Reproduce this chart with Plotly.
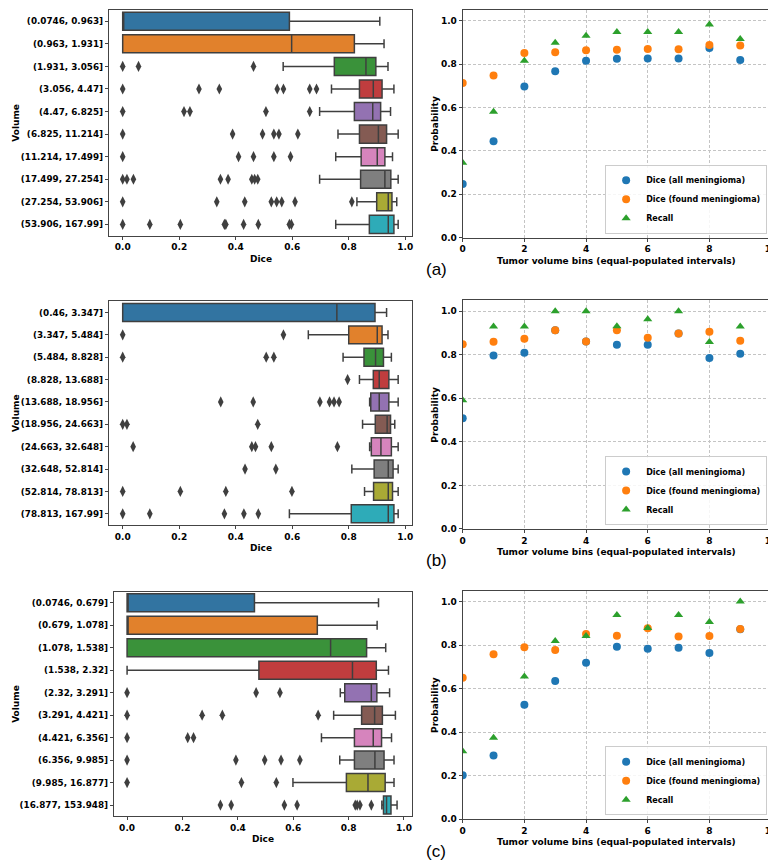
import plotly.graph_objects as go

W, H = 776, 860

# ---------------- data ----------------
cats_a = ["(0.0746, 0.963]", "(0.963, 1.931]", "(1.931, 3.056]", "(3.056, 4.47]", "(4.47, 6.825]",
          "(6.825, 11.214]", "(11.214, 17.499]", "(17.499, 27.254]", "(27.254, 53.906]", "(53.906, 167.99]"]
q1_a = [0, 0, 0.749, 0.838, 0.82, 0.838, 0.844, 0.842, 0.899, 0.873]
med_a = [0, 0.598, 0.861, 0.887, 0.885, 0.905, 0.901, 0.928, 0.94, 0.94]
q3_a = [0.59, 0.82, 0.896, 0.918, 0.913, 0.934, 0.928, 0.949, 0.953, 0.96]
lo_a = [0, 0, 0.568, 0.739, 0.697, 0.762, 0.754, 0.697, 0.829, 0.754]
hi_a = [0.91, 0.925, 0.939, 0.96, 0.948, 0.975, 0.955, 0.975, 0.97, 0.975]
out_a = [[], [], [0, 0.056, 0.463], [0, 0.27, 0.342, 0.547, 0.569, 0.662, 0.686],
         [0, 0.217, 0.238, 0.507, 0.662], [0, 0.389, 0.495, 0.535, 0.553, 0.62],
         [0, 0.41, 0.463, 0.535, 0.594], [0, 0.015, 0.038, 0.346, 0.373, 0.457, 0.467, 0.478],
         [0, 0.333, 0.432, 0.526, 0.545, 0.563, 0.61, 0.811],
         [0, 0.096, 0.204, 0.36, 0.365, 0.428, 0.48, 0.59, 0.597]]

cats_b = ["(0.46, 3.347]", "(3.347, 5.484]", "(5.484, 8.828]", "(8.828, 13.688]", "(13.688, 18.956]",
          "(18.956, 24.663]", "(24.663, 32.648]", "(32.648, 52.814]", "(52.814, 78.813]", "(78.813, 167.99]"]
q1_b = [0, 0.80, 0.854, 0.887, 0.878, 0.894, 0.88, 0.89, 0.888, 0.809]
med_b = [0.758, 0.901, 0.895, 0.908, 0.908, 0.936, 0.914, 0.94, 0.94, 0.94]
q3_b = [0.893, 0.918, 0.923, 0.942, 0.942, 0.948, 0.951, 0.957, 0.955, 0.96]
lo_b = [0, 0.657, 0.78, 0.838, 0.874, 0.849, 0.874, 0.811, 0.856, 0.59]
hi_b = [0.934, 0.939, 0.951, 0.975, 0.975, 0.963, 0.975, 0.975, 0.975, 0.975]
out_b = [[], [0, 0.569], [0, 0.508, 0.535], [0.796], [0.347, 0.462, 0.698, 0.732, 0.748, 0.766],
         [0, 0.015, 0.478], [0.037, 0.457, 0.47, 0.526, 0.76], [0.433, 0.542],
         [0, 0.204, 0.365, 0.599], [0, 0.096, 0.36, 0.429, 0.48]]

cats_c = ["(0.0746, 0.679]", "(0.679, 1.078]", "(1.078, 1.538]", "(1.538, 2.32]", "(2.32, 3.291]",
          "(3.291, 4.421]", "(4.421, 6.356]", "(6.356, 9.985]", "(9.985, 16.877]", "(16.877, 153.948]"]
q1_c = [0, 0, 0, 0.476, 0.786, 0.847, 0.821, 0.821, 0.792, 0.926]
med_c = [0, 0, 0.735, 0.814, 0.882, 0.894, 0.889, 0.895, 0.87, 0.937]
q3_c = [0.46, 0.687, 0.865, 0.90, 0.902, 0.922, 0.919, 0.928, 0.932, 0.953]
lo_c = [0, 0, 0, 0, 0.77, 0.746, 0.702, 0.768, 0.599, 0.92]
hi_c = [0.908, 0.903, 0.934, 0.944, 0.948, 0.969, 0.955, 0.964, 0.964, 0.975]
out_c = [[], [], [], [], [0, 0.466, 0.552], [0, 0.271, 0.344, 0.69], [0, 0.219, 0.24],
         [0, 0.393, 0.497, 0.556, 0.624], [0, 0.413, 0.539],
         [0.337, 0.376, 0.568, 0.614, 0.824, 0.831, 0.841, 0.882]]

bins = list(range(10))
dice_all_a = [0.248, 0.445, 0.697, 0.768, 0.816, 0.825, 0.826, 0.826, 0.875, 0.819]
dice_found_a = [0.713, 0.748, 0.852, 0.855, 0.864, 0.867, 0.870, 0.869, 0.889, 0.886]
recall_a = [0.346, 0.581, 0.816, 0.899, 0.931, 0.948, 0.948, 0.948, 0.983, 0.916]

dice_all_b = [0.508, 0.797, 0.809, 0.913, 0.861, 0.846, 0.846, 0.898, 0.785, 0.805]
dice_found_b = [0.848, 0.860, 0.873, 0.913, 0.861, 0.912, 0.878, 0.898, 0.905, 0.864]
recall_b = [0.591, 0.930, 0.930, 1.0, 1.0, 0.931, 0.963, 1.0, 0.858, 0.930]

dice_all_c = [0.202, 0.293, 0.526, 0.635, 0.719, 0.792, 0.783, 0.787, 0.763, 0.872]
dice_found_c = [0.650, 0.758, 0.790, 0.777, 0.851, 0.843, 0.877, 0.839, 0.842, 0.874]
recall_c = [0.312, 0.374, 0.655, 0.818, 0.842, 0.938, 0.878, 0.938, 0.906, 1.0]

box_colors = ['#3274a1', '#e1812c', '#3a923a', '#c03d3e', '#9372b2',
              '#845b53', '#d684bd', '#7f7f7f', '#a9aa35', '#2eabb8']
series_names = ["Dice (all meningioma)", "Dice (found meningioma)", "Recall"]
series_colors = ['#1f77b4', '#ff7f0e', '#2ca02c']
series_symbols = ['circle', 'circle', 'triangle-up']

# ---------------- layout helpers ----------------
def px_x(a, b):
    return [a / W, b / W]

def px_y(top, bottom):
    return [1 - bottom / H, 1 - top / H]

BOLD = dict(family="DejaVu Sans", size=9, color="black", weight="bold")
CAT_FONT = dict(family="DejaVu Sans", size=8.8, color="black", weight="bold")
LEG_FONT = dict(family="DejaVu Sans", size=8, color="black", weight="bold")
LINE = '#444444'
EDGE = '#3f3f3f'
GRID = '#c4c4c4'

fig = go.Figure()

panels = [
    dict(lx='x', ly='y', rx='x2', ry='y2', cats=cats_a, q1=q1_a, med=med_a, q3=q3_a, lo=lo_a, hi=hi_a,
         out=out_a, sc=(dice_all_a, dice_found_a, recall_a), legend='legend',
         ldx=(99, 406), ldy=(2, 229), lrange=[-0.049, 1.025], rdy=(2, 231)),
    dict(lx='x3', ly='y3', rx='x4', ry='y4', cats=cats_b, q1=q1_b, med=med_b, q3=q3_b, lo=lo_b, hi=hi_b,
         out=out_b, sc=(dice_all_b, dice_found_b, recall_b), legend='legend2',
         ldx=(99, 406), ldy=(295, 520), lrange=[-0.049, 1.025], rdy=(294, 524)),
    dict(lx='x5', ly='y5', rx='x6', ry='y6', cats=cats_c, q1=q1_c, med=med_c, q3=q3_c, lo=lo_c, hi=hi_c,
         out=out_c, sc=(dice_all_c, dice_found_c, recall_c), legend='legend3',
         ldx=(104, 406), ldy=(587, 813), lrange=[-0.048, 1.03], rdy=(586, 816)),
]

layout_axes = {}
annotations = []
legends = {}

def ann(text, xpx, ypx, font, angle=0):
    return dict(text=text, x=xpx / W, y=1 - ypx / H, xref='paper', yref='paper',
                xanchor='center', yanchor='middle', showarrow=False, font=font, textangle=angle)

for k, p in enumerate(panels):
    for i in range(len(p['cats'])):
        fig.add_trace(go.Box(
            orientation='h', y=[i], q1=[p['q1'][i]], median=[p['med'][i]], q3=[p['q3'][i]],
            lowerfence=[p['lo'][i]], upperfence=[p['hi'][i]],
            fillcolor=box_colors[i], line=dict(color=EDGE, width=1.5),
            width=0.8, whiskerwidth=0.5, boxpoints=False,
            xaxis=p['lx'], yaxis=p['ly'], showlegend=False, hoverinfo='skip'))
    ox = [v for row in p['out'] for v in row]
    oy = [i for i, row in enumerate(p['out']) for _ in row]
    fig.add_trace(go.Scatter(x=ox, y=oy, mode='markers',
                             marker=dict(symbol='diamond-tall', size=8, color=EDGE),
                             xaxis=p['lx'], yaxis=p['ly'], showlegend=False, hoverinfo='skip'))
    for s in range(3):
        fig.add_trace(go.Scatter(x=bins, y=p['sc'][s], mode='markers', name=series_names[s],
                                 marker=dict(symbol=series_symbols[s], size=8, color=series_colors[s]),
                                 xaxis=p['rx'], yaxis=p['ry'], legend=p['legend'], showlegend=True))

    lxn = 'xaxis' + p['lx'][1:]
    lyn = 'yaxis' + p['ly'][1:]
    rxn = 'xaxis' + p['rx'][1:]
    ryn = 'yaxis' + p['ry'][1:]
    common = dict(showline=True, mirror=True, linecolor=LINE, linewidth=1, ticks='outside',
                  ticklen=3, tickcolor=LINE, zeroline=False)
    layout_axes[lxn] = dict(domain=px_x(*p['ldx']), anchor=p['ly'], range=p['lrange'],
                            tickvals=[0, 0.2, 0.4, 0.6, 0.8, 1.0],
                            ticktext=['0.0', '0.2', '0.4', '0.6', '0.8', '1.0'],
                            showgrid=False, tickfont=BOLD, **common)
    layout_axes[lyn] = dict(domain=px_y(*p['ldy']), anchor=p['lx'], range=[9.5, -0.5],
                            tickvals=list(range(10)), ticktext=p['cats'], showgrid=False,
                            tickfont=CAT_FONT, **common)
    layout_axes[rxn] = dict(domain=px_x(457, 769), anchor=p['ry'], range=[0, 10],
                            tickvals=[0, 2, 4, 6, 8, 10], showgrid=True, gridcolor=GRID,
                            griddash='3px,2px', gridwidth=0.8, tickfont=BOLD, **common)
    layout_axes[ryn] = dict(domain=px_y(*p['rdy']), anchor=p['rx'], range=[0, 1.05],
                            tickvals=[0, 0.2, 0.4, 0.6, 0.8, 1.0],
                            ticktext=['0.0', '0.2', '0.4', '0.6', '0.8', '1.0'],
                            showgrid=True, gridcolor=GRID, griddash='3px,2px', gridwidth=0.8,
                            tickfont=BOLD, **common)

    lt, lb = p['ldy']
    rt, rb = p['rdy']
    annotations.append(ann('Dice', (p['ldx'][0] + p['ldx'][1]) / 2, lb + 23, BOLD))
    annotations.append(ann('Volume', 5, (lt + lb) / 2, BOLD, -90))
    annotations.append(ann('Tumor volume bins (equal-populated intervals)', 613, rb + 23, BOLD))
    annotations.append(ann('Probability', 429, (rt + rb) / 2, BOLD, -90))
    annotations.append(ann('(' + 'abc'[k] + ')', 430, rb + 32,
                           dict(family='Liberation Sans Narrow, Liberation Sans', size=17,
                                color='black', weight='normal')))
    legends[p['legend']] = dict(x=765 / W, y=1 - (rb - 4) / H, xanchor='right', yanchor='bottom',
                                bgcolor='rgba(255,255,255,0.85)', bordercolor='#cccccc', borderwidth=1,
                                font=LEG_FONT, tracegroupgap=0, itemwidth=30)

fig.update_layout(
    width=W, height=H, autosize=False,
    margin=dict(l=0, r=0, t=0, b=0),
    paper_bgcolor='white', plot_bgcolor='white',
    font=BOLD, boxmode='overlay',
    annotations=annotations,
    **layout_axes, **legends,
)

fig.write_html("out.html")
